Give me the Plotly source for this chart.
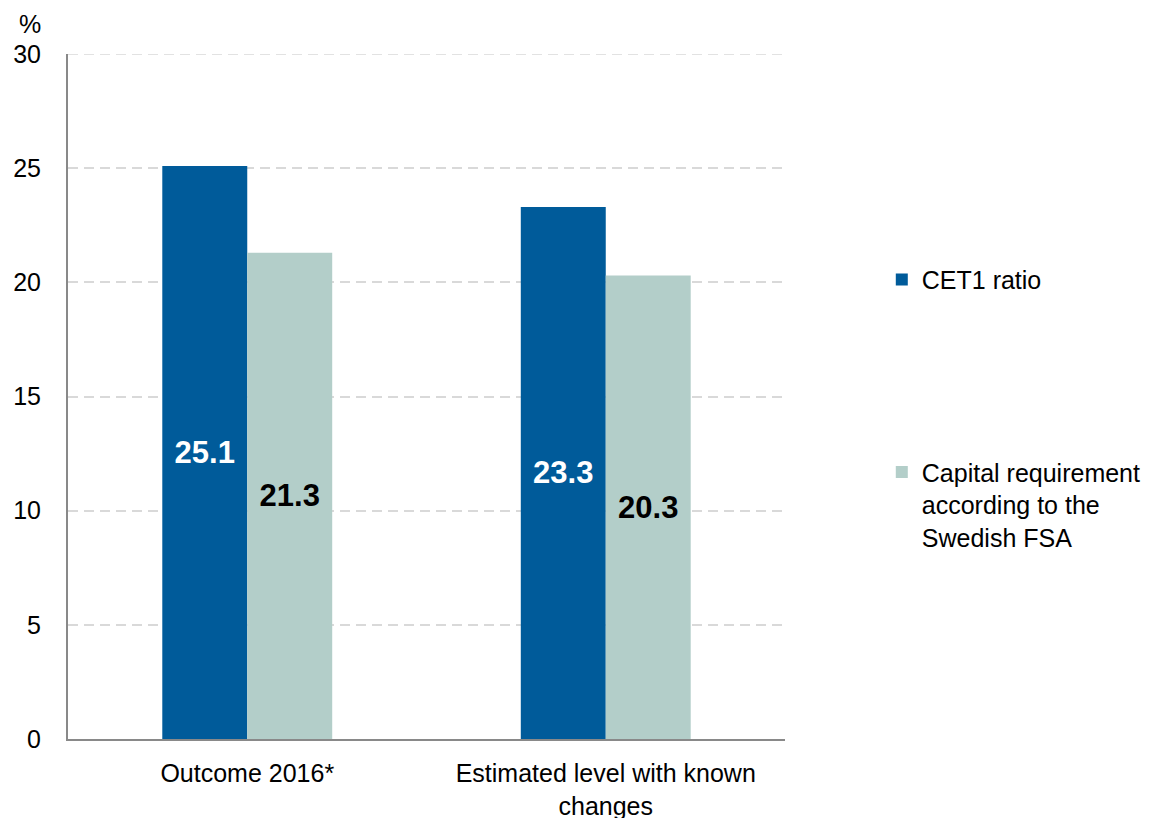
import plotly.graph_objects as go

# Categories and series values (%)
categories = ["Outcome 2016*", "Estimated level with known<br>changes"]
cet1_ratio = [25.1, 23.3]
capital_requirement = [21.3, 20.3]

series_names = ["CET1 ratio", "Capital requirement<br>according to the<br>Swedish FSA"]
y_ticks = [0, 5, 10, 15, 20, 25, 30]

DARK_BLUE = "#005B9A"
LIGHT_GREEN = "#B3CEC9"
GRID = "#D9D9D9"
AXIS = "#898989"
FONT = "Liberation Sans, Arial, sans-serif"

fig = go.Figure()

fig.add_trace(go.Bar(
    x=categories, y=cet1_ratio, name=series_names[0],
    marker=dict(color=DARK_BLUE, line=dict(width=0)),
    text=[f"{v:.1f}" for v in cet1_ratio],
    textposition="inside", insidetextanchor="middle",
    textfont=dict(family=FONT, size=31, color="white", weight="bold"),
    legendgroup="a",
))
fig.add_trace(go.Bar(
    x=categories, y=capital_requirement, name=series_names[1],
    marker=dict(color=LIGHT_GREEN, line=dict(width=0)),
    text=[f"{v:.1f}" for v in capital_requirement],
    textposition="inside", insidetextanchor="middle",
    textfont=dict(family=FONT, size=31, color="black", weight="bold"),
    legendgroup="b",
))

fig.update_layout(
    width=1171, height=818,
    margin=dict(l=68, r=386, t=54, b=79, autoexpand=False),
    paper_bgcolor="white", plot_bgcolor="white",
    font=dict(family=FONT, size=25, color="black"),
    barmode="group", bargap=0.526, bargroupgap=0,
    showlegend=True,
    legend=dict(
        x=1.135, xanchor="left", y=0.704, yanchor="top",
        valign="top", tracegroupgap=157,
        font=dict(family=FONT, size=25, color="black"),
        itemwidth=30, bgcolor="rgba(0,0,0,0)",
    ),
    uniformtext=dict(mode=False),
)

fig.update_xaxes(
    showline=True, linecolor=AXIS, linewidth=2,
    showgrid=False, ticks="", ticklabelstandoff=11, automargin=False,
    tickfont=dict(family=FONT, size=25, color="black"),
)
fig.update_yaxes(
    range=[0, 30], tickvals=y_ticks,
    showline=True, linecolor=AXIS, linewidth=2,
    showgrid=True, gridcolor=GRID, gridwidth=1.5, griddash="10px,6px",
    zeroline=False, ticks="", ticklabelstandoff=20, automargin=False,
    tickfont=dict(family=FONT, size=25, color="black"),
)

# dashed gridline along the top of the value range
fig.add_shape(
    type="line", xref="paper", yref="y", x0=0, x1=1, y0=30, y1=30,
    line=dict(color=GRID, width=1.5, dash="10px,6px"), layer="below",
)

fig.add_annotation(
    text="%", xref="paper", yref="paper", x=-0.035, y=1.0,
    xanchor="right", yanchor="bottom", yshift=14, showarrow=False,
    font=dict(family=FONT, size=25, color="black"),
)

fig.write_html("out.html")
